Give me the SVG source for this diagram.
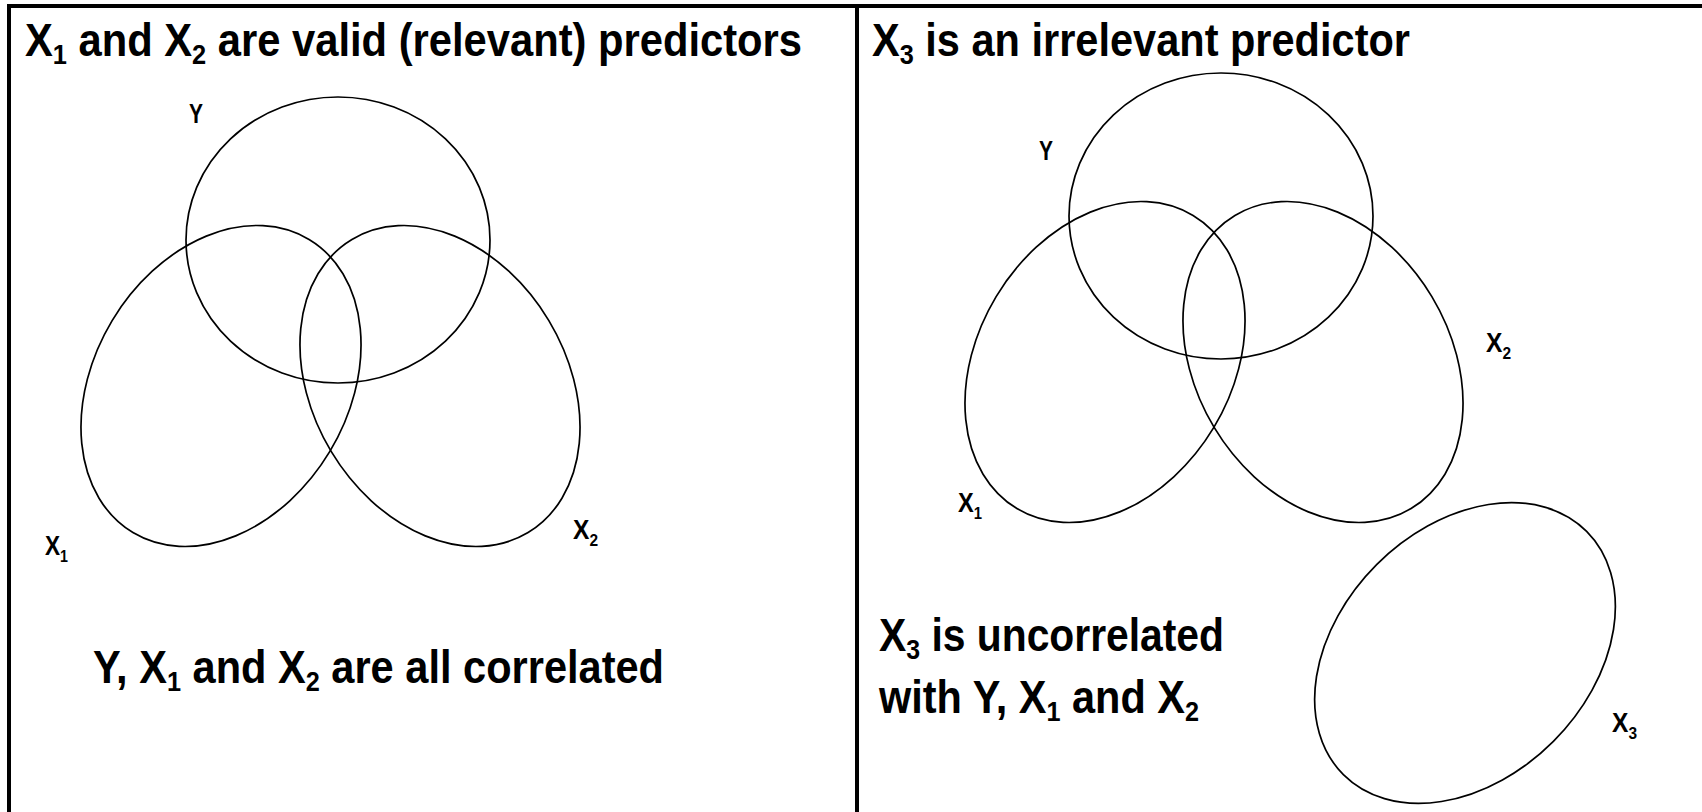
<svg xmlns="http://www.w3.org/2000/svg" width="1702" height="812" viewBox="0 0 1702 812">
<style>
.t{font-family:"Liberation Sans Narrow","Liberation Sans",Arial,sans-serif;font-weight:bold;fill:#000}
.big{font-size:46px}
.sb{font-size:28px}
.lb{font-size:27px}
.ls{font-size:17px}
.e{fill:none;stroke:#000;stroke-width:1.7}
.frame{stroke:#000;stroke-width:4;fill:none}
</style>
<rect width="1702" height="812" fill="#fff"/>
<g id="frame">
<line class="frame" x1="7" y1="6" x2="1702" y2="6"/>
<line class="frame" x1="9" y1="4" x2="9" y2="812"/>
<line class="frame" x1="857" y1="4" x2="857" y2="812"/>
</g>
<g id="left-panel">
<text class="t big" x="25" y="56" textLength="777" lengthAdjust="spacingAndGlyphs">X<tspan class="sb" dy="8">1</tspan><tspan dy="-8"> and X</tspan><tspan class="sb" dy="8">2</tspan><tspan dy="-8"> are valid (relevant) predictors</tspan></text>
<g id="L-Y"><ellipse class="e" cx="338" cy="240" rx="152" ry="143"/><text class="t lb" x="189" y="123" textLength="14" lengthAdjust="spacingAndGlyphs">Y</text></g>
<g id="L-X1"><ellipse class="e" cx="221" cy="386" rx="127" ry="171" transform="rotate(31 221 386)"/><text class="t lb" x="45" y="555" textLength="23" lengthAdjust="spacingAndGlyphs">X<tspan class="ls" dy="7">1</tspan></text></g>
<g id="L-X2"><ellipse class="e" cx="440" cy="386" rx="127" ry="171" transform="rotate(-31 440 386)"/><text class="t lb" x="573" y="539" textLength="25" lengthAdjust="spacingAndGlyphs">X<tspan class="ls" dy="7">2</tspan></text></g>
<text class="t big" x="93" y="683" textLength="571" lengthAdjust="spacingAndGlyphs">Y, X<tspan class="sb" dy="8">1</tspan><tspan dy="-8"> and X</tspan><tspan class="sb" dy="8">2</tspan><tspan dy="-8"> are all correlated</tspan></text>
</g>
<g id="right-panel">
<text class="t big" x="872" y="56" textLength="538" lengthAdjust="spacingAndGlyphs">X<tspan class="sb" dy="8">3</tspan><tspan dy="-8"> is an irrelevant predictor</tspan></text>
<g id="R-Y"><ellipse class="e" cx="1221" cy="216" rx="152" ry="143"/><text class="t lb" x="1039" y="160" textLength="14" lengthAdjust="spacingAndGlyphs">Y</text></g>
<g id="R-X1"><ellipse class="e" cx="1105" cy="362" rx="127" ry="171" transform="rotate(31 1105 362)"/><text class="t lb" x="958" y="512" textLength="24" lengthAdjust="spacingAndGlyphs">X<tspan class="ls" dy="7">1</tspan></text></g>
<g id="R-X2"><ellipse class="e" cx="1323" cy="362" rx="127" ry="171" transform="rotate(-31 1323 362)"/><text class="t lb" x="1486" y="352" textLength="25" lengthAdjust="spacingAndGlyphs">X<tspan class="ls" dy="7">2</tspan></text></g>
<g id="R-X3"><ellipse class="e" cx="1465" cy="653" rx="125" ry="172" transform="rotate(45 1465 653)"/><text class="t lb" x="1612" y="732" textLength="25" lengthAdjust="spacingAndGlyphs">X<tspan class="ls" dy="7">3</tspan></text></g>
<text class="t big" x="879" y="651" textLength="345" lengthAdjust="spacingAndGlyphs">X<tspan class="sb" dy="8">3</tspan><tspan dy="-8"> is uncorrelated</tspan></text>
<text class="t big" x="879" y="713" textLength="320" lengthAdjust="spacingAndGlyphs">with Y, X<tspan class="sb" dy="8">1</tspan><tspan dy="-8"> and X</tspan><tspan class="sb" dy="8">2</tspan></text>
</g>
</svg>
